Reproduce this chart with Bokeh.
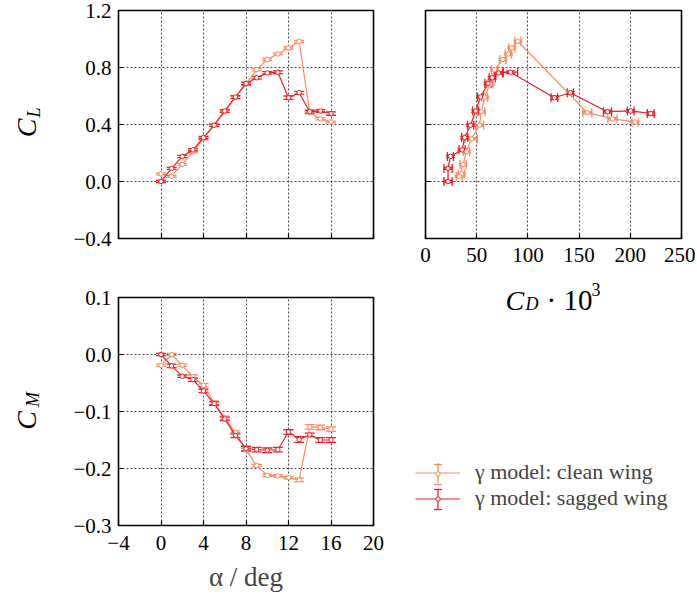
import numpy as np
from math import pi
from bokeh.plotting import figure
from bokeh.models import (ColumnDataSource, Whisker, TeeHead, FixedTicker, Label,
                          Legend, LegendItem, Range1d)
from bokeh.layouts import row, column
from bokeh.embed import file_html
from bokeh.resources import INLINE

# ---------------- data ----------------
alpha = [0, 1, 2, 3, 4, 5, 6, 7, 8, 9, 10, 11, 12, 13, 14, 15, 16]

cl_clean = [0.053, 0.036, 0.120, 0.210, 0.300, 0.395, 0.490, 0.590, 0.685, 0.785,
            0.856, 0.895, 0.937, 0.984, 0.483, 0.440, 0.418]
cl_sag = [0.000, 0.092, 0.176, 0.222, 0.308, 0.395, 0.495, 0.593, 0.688, 0.728,
          0.762, 0.767, 0.588, 0.623, 0.490, 0.495, 0.477]
cl_err_clean = [0.006, 0.006, 0.007, 0.007, 0.008, 0.008, 0.008, 0.008, 0.008, 0.008,
                0.007, 0.007, 0.007, 0.007, 0.008, 0.008, 0.006]
cl_err_sag = [0.007, 0.007, 0.008, 0.008, 0.008, 0.008, 0.009, 0.009, 0.009, 0.009,
              0.009, 0.010, 0.012, 0.010, 0.010, 0.009, 0.012]

cd_clean = [35.0, 33.0, 36.7, 40.0, 44.7, 52.8, 54.5, 57.7, 63.0, 67.4,
            75.5, 81.0, 84.3, 90.2, 158.0, 182.6, 204.6]
cd_sag = [22.0, 22.0, 24.3, 35.7, 38.3, 44.0, 49.0, 53.8, 61.0, 65.2,
          71.3, 83.0, 125.8, 141.4, 177.7, 200.4, 220.0]
cd_err_clean = [3, 3, 3, 3, 6, 4, 3.5, 3, 3, 3, 3, 3, 3, 3, 4.4, 4.5, 3]
cd_err_sag = [4, 4, 3, 3, 3, 3, 3, 3, 3, 3, 4, 7, 3.2, 3, 4, 3.3, 3.3]

cm_clean = [-0.019, 0.000, -0.019, -0.039, -0.054, -0.085, -0.111, -0.137, -0.167, -0.195,
            -0.212, -0.213, -0.216, -0.220, -0.127, -0.128, -0.131]
cm_sag = [0.000, -0.020, -0.038, -0.044, -0.064, -0.086, -0.113, -0.142, -0.165, -0.167,
          -0.168, -0.167, -0.136, -0.149, -0.141, -0.150, -0.150]
cm_err_clean = [0.002, 0.002, 0.002, 0.003, 0.003, 0.003, 0.003, 0.003, 0.003, 0.002,
                0.002, 0.002, 0.002, 0.003, 0.004, 0.004, 0.004]
cm_err_sag = [0.002, 0.003, 0.002, 0.003, 0.003, 0.003, 0.003, 0.004, 0.004, 0.004,
              0.004, 0.004, 0.004, 0.005, 0.003, 0.004, 0.004]

alpha_ticks = [-4, 0, 4, 8, 12, 16, 20]
alpha_tick_labels = ["\u22124", "0", "4", "8", "12", "16", "20"]
cl_ticks = [-0.4, 0.0, 0.4, 0.8, 1.2]
cl_tick_labels = ["\u22120.4", "0.0", "0.4", "0.8", "1.2"]
cd_ticks = [0, 50, 100, 150, 200, 250]
cd_tick_labels = ["0", "50", "100", "150", "200", "250"]
cm_ticks = [-0.3, -0.2, -0.1, 0.0, 0.1]
cm_tick_labels = ["\u22120.3", "\u22120.2", "\u22120.1", "0.0", "0.1"]

series_names = ["\u03b3 model: clean wing", "\u03b3 model: sagged wing"]
colors = ["#f98b5e", "#ee1c24"]

FONT = "Liberation Serif, serif"
TICK_SIZE = "21px"


def make_fig(width, height, xr, yr, borders):
    l, r, t, b = borders
    p = figure(width=width, height=height, x_range=Range1d(*xr), y_range=Range1d(*yr),
               toolbar_location=None, output_backend="svg",
               min_border_left=l, min_border_right=r, min_border_top=t, min_border_bottom=b)
    p.outline_line_color = "black"
    p.outline_line_width = 1.6
    p.outline_line_alpha = 1.0
    p.background_fill_color = "white"
    p.border_fill_color = "white"
    p.grid.grid_line_color = "black"
    p.grid.grid_line_dash = "2 2"
    p.grid.grid_line_width = 0.8
    p.grid.grid_line_alpha = 0.9
    for ax in (p.xaxis[0], p.yaxis[0]):
        ax.axis_line_color = None
        ax.major_tick_in = 5
        ax.major_tick_out = 0
        ax.major_tick_line_color = "black"
        ax.major_tick_line_width = 1.2
        ax.minor_tick_line_color = None
        ax.major_label_text_font = FONT
        ax.major_label_text_font_size = TICK_SIZE
        ax.major_label_text_color = "black"
    return p


def blank_fig(width, height):
    # a figure whose frame is the whole canvas; used for texts/legend outside the axes
    p = figure(width=width, height=height, x_range=Range1d(0, width), y_range=Range1d(0, height),
               toolbar_location=None, output_backend="svg", min_border=0,
               x_axis_location=None, y_axis_location=None)
    p.grid.visible = False
    p.outline_line_color = None
    p.background_fill_color = "white"
    p.border_fill_color = "white"
    p.frame_align = False
    return p


def set_ticks(ax, ticks, labels, show):
    ax.ticker = FixedTicker(ticks=ticks)
    ax.major_label_overrides = {t: (lab if show else "") for t, lab in zip(ticks, labels)}


def add_series(p, x, y, yerr, xerr, color, cap):
    x = np.asarray(x, dtype=float)
    y = np.asarray(y, dtype=float)
    yerr = np.asarray(yerr, dtype=float)
    src = ColumnDataSource(dict(x=x, y=y, ylo=y - yerr, yhi=y + yerr))
    p.add_layout(Whisker(source=src, base="x", lower="ylo", upper="yhi", dimension="height",
                         line_color=color, line_width=1.3,
                         upper_head=TeeHead(size=cap, line_color=color, line_width=1.3),
                         lower_head=TeeHead(size=cap, line_color=color, line_width=1.3)))
    if xerr is not None:
        xerr = np.asarray(xerr, dtype=float)
        src2 = ColumnDataSource(dict(x=x, y=y, xlo=x - xerr, xhi=x + xerr))
        p.add_layout(Whisker(source=src2, base="y", lower="xlo", upper="xhi", dimension="width",
                             line_color=color, line_width=1.3,
                             upper_head=TeeHead(size=cap, line_color=color, line_width=1.3),
                             lower_head=TeeHead(size=cap, line_color=color, line_width=1.3)))
    p.line(x, y, line_color=color, line_width=1.2)
    p.scatter(x, y, marker="circle", size=4.5, fill_color="white", line_color=color, line_width=1)


def mlabel(p, x, y, text, size, italic=False, angle=0.0, align="center", baseline="middle"):
    p.add_layout(Label(x=x, y=y, text=text, text_font=FONT, text_font_size=size,
                       text_font_style="italic" if italic else "normal",
                       text_color="black", angle=angle, text_align=align, text_baseline=baseline))


# ---------------- CL vs alpha ----------------
p1 = make_fig(333, 285, (-4, 20), (-0.4, 1.2), (58, 20, 10, 47))
set_ticks(p1.xaxis[0], alpha_ticks, alpha_tick_labels, False)
set_ticks(p1.yaxis[0], cl_ticks, cl_tick_labels, True)
p1.yaxis.major_label_standoff = 7
add_series(p1, alpha, cl_clean, cl_err_clean, None, colors[0], 10)
add_series(p1, alpha, cl_sag, cl_err_sag, None, colors[1], 10)

# ---------------- CM vs alpha ----------------
p3 = make_fig(333, 315, (-4, 20), (-0.3, 0.1), (58, 20, 12, 75))
set_ticks(p3.xaxis[0], alpha_ticks, alpha_tick_labels, True)
set_ticks(p3.yaxis[0], cm_ticks, cm_tick_labels, True)
p3.yaxis.major_label_standoff = 7
p3.xaxis.major_label_standoff = 10
p3.xaxis.axis_label = "\u03b1 / deg"
p3.xaxis.axis_label_text_font = FONT
p3.xaxis.axis_label_text_font_size = "27px"
p3.xaxis.axis_label_text_font_style = "normal"
p3.xaxis.axis_label_standoff = 9
add_series(p3, alpha, cm_clean, cm_err_clean, None, colors[0], 10)
add_series(p3, alpha, cm_sag, cm_err_sag, None, colors[1], 10)

# ---------------- CL vs CD ----------------
p2 = make_fig(302, 273, (0, 250), (-0.4, 1.2), (32, 14, 10, 35))
set_ticks(p2.xaxis[0], cd_ticks, cd_tick_labels, True)
set_ticks(p2.yaxis[0], cl_ticks, cl_tick_labels, False)
p2.xaxis.major_label_standoff = 9
add_series(p2, cd_clean, cl_clean, cl_err_clean, cd_err_clean, colors[0], 9)
add_series(p2, cd_sag, cl_sag, cl_err_sag, cd_err_sag, colors[1], 9)

# ---------------- y-axis titles (left strip) ----------------
labL = blank_fig(60, 600)
mlabel(labL, 26, 472.5, "C", "28px", italic=True, angle=pi / 2)
mlabel(labL, 33.5, 488, "L", "18px", italic=True, angle=pi / 2)
mlabel(labL, 26, 180, "C", "28px", italic=True, angle=pi / 2)
mlabel(labL, 32, 201, "M", "18px", italic=True, angle=pi / 2)

# ---------------- x title of the drag polar + legend ----------------
pl = blank_fig(302, 327)
mlabel(pl, 112, 300, "C", "28px", italic=True, align="left", baseline="alphabetic")
mlabel(pl, 132, 297, "D", "18px", italic=True, align="left", baseline="alphabetic")
mlabel(pl, 153, 301, "\u00b7 10", "29px", align="left", baseline="alphabetic")
mlabel(pl, 198, 311, "3", "18px", align="left", baseline="alphabetic")


def legend_layer(kind, glyph_height, dy, with_labels):
    items = []
    for name, c in zip(series_names, colors):
        if kind == "main":
            rs = [pl.line(x=[-10, -9], y=[-10, -10], line_color=c, line_width=1.2),
                  pl.ellipse(x=[-10], y=[-10], width=0.05, height=20, line_color=c,
                             line_width=1.3, fill_alpha=0)]
        elif kind == "cap":
            rs = [pl.scatter(x=[-10], y=[-10], marker="dash", size=8, line_color=c,
                             line_width=1.3)]
        else:
            rs = [pl.scatter(x=[-10], y=[-10], marker="circle", size=4.5,
                             fill_color="white", line_color=c, line_width=1)]
        items.append(LegendItem(label=name if with_labels else " ", renderers=rs))
    lg = Legend(items=items, location=(22, 89 - dy), glyph_width=45, glyph_height=glyph_height,
                label_height=25, spacing=0, padding=0, margin=0,
                border_line_color=None, background_fill_alpha=0,
                label_text_font=FONT, label_text_font_size="22px", label_standoff=15)
    pl.add_layout(lg)


legend_layer("main", 25, 0, True)
legend_layer("cap", 20, -10, False)
legend_layer("cap", 20, 10, False)
legend_layer("dot", 11, 0, False)

layout = row(labL, column(p1, p3), column(p2, pl))
open("out.html", "w").write(file_html(layout, INLINE))
